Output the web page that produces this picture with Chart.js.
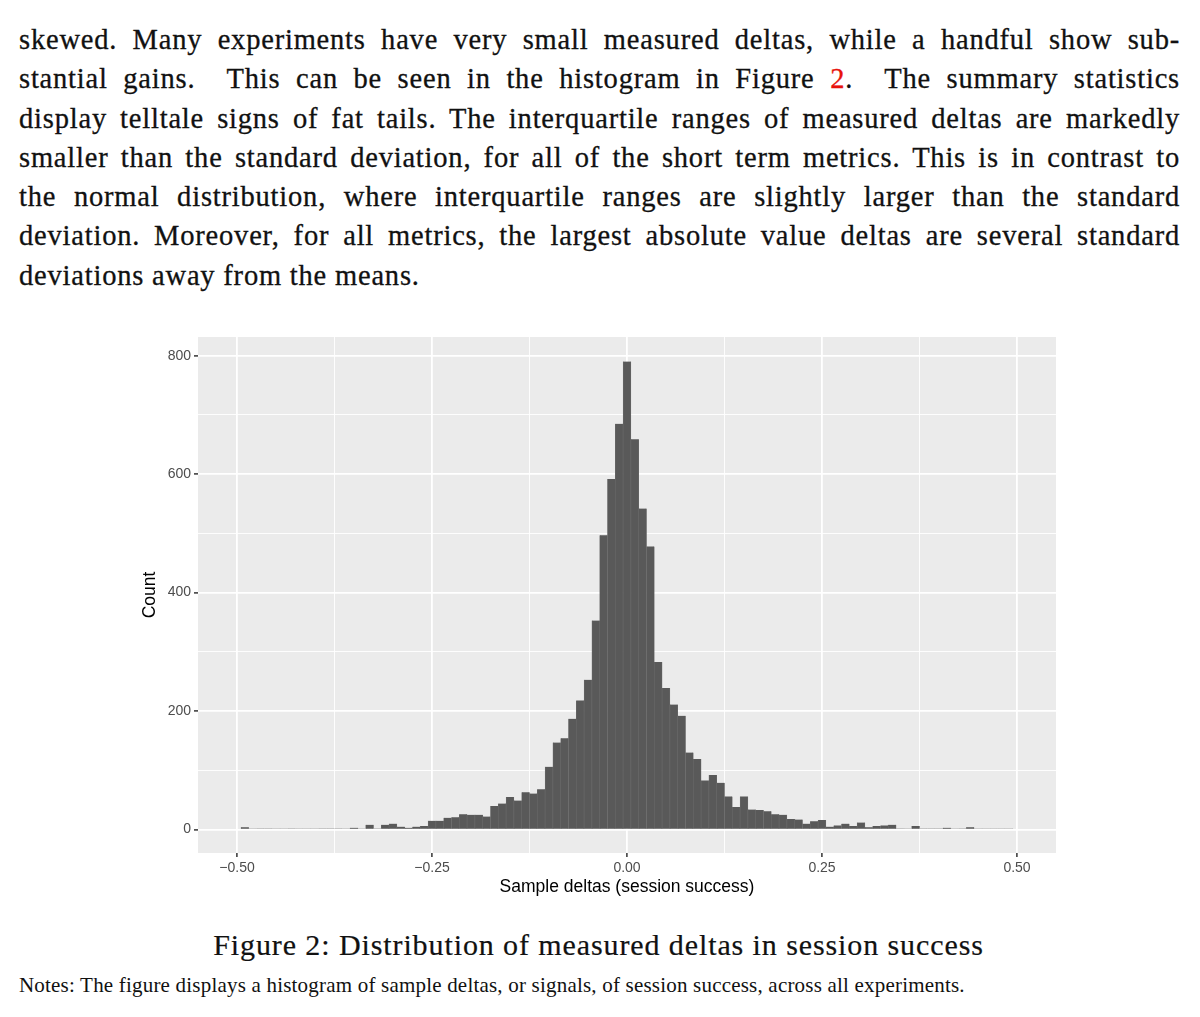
<!DOCTYPE html>
<html lang="en">
<head>
    <meta charset="UTF-8">
    <title>Distribution of measured deltas in session success</title>
    <script src="https://cdn.jsdelivr.net/npm/chart.js"></script>
    <style>
        body {
            margin: 0;
            width: 1200px;
            height: 1017px;
            background: #fff;
            color: #111;
            position: relative;
            overflow: hidden;
        }
        .para {
            position: absolute;
            left: 19px;
            top: 20px;
            width: 1161px;
            font-family: "Liberation Serif", serif;
            font-size: 28.5px;
            line-height: 39.3px;
            letter-spacing: 0.8px;
            -webkit-text-stroke: 0.3px #111;
        }
        .para .ln {
            text-align: justify;
            text-align-last: justify;
            white-space: nowrap;
        }
        .para .ln.last {
            text-align-last: left;
        }
        .ref { color: #e8120c; -webkit-text-stroke: 0.3px #e8120c; }
        .chart-box {
            position: absolute;
            left: 130px;
            top: 320px;
            width: 940px;
            height: 590px;
        }
        .caption {
            position: absolute;
            left: 0;
            width: 1197px;
            top: 930px;
            text-align: center;
            font-family: "Liberation Serif", serif;
            font-size: 30px;
            line-height: 30px;
            letter-spacing: 0.9px;
            -webkit-text-stroke: 0.2px #111;
        }
        .notes {
            position: absolute;
            left: 19px;
            top: 975px;
            font-family: "Liberation Serif", serif;
            font-size: 21px;
            line-height: 21px;
            letter-spacing: 0.2px;
        }
    </style>
</head>
<body>
    <div class="para">
        <div class="ln">skewed. Many experiments have very small measured deltas, while a handful show sub-</div>
        <div class="ln">stantial gains. &nbsp;This can be seen in the histogram in Figure <span class="ref">2</span>. &nbsp;The summary statistics</div>
        <div class="ln">display telltale signs of fat tails. The interquartile ranges of measured deltas are markedly</div>
        <div class="ln">smaller than the standard deviation, for all of the short term metrics. This is in contrast to</div>
        <div class="ln">the normal distribution, where interquartile ranges are slightly larger than the standard</div>
        <div class="ln">deviation. Moreover, for all metrics, the largest absolute value deltas are several standard</div>
        <div class="ln last">deviations away from the means.</div>
    </div>

    <div class="chart-box">
        <canvas id="histChart" width="940" height="590"></canvas>
    </div>

    <div class="caption">Figure 2: Distribution of measured deltas in session success</div>
    <div class="notes">Notes: The figure displays a histogram of sample deltas, or signals, of session success, across all experiments.</div>

    <script>
        // centres des classes (largeur 0.01)
        const binCenters = [
            -0.50, -0.49, -0.48, -0.47, -0.46, -0.45, -0.44, -0.43, -0.42, -0.41,
            -0.40, -0.39, -0.38, -0.37, -0.36, -0.35, -0.34, -0.33, -0.32, -0.31,
            -0.30, -0.29, -0.28, -0.27, -0.26, -0.25, -0.24, -0.23, -0.22, -0.21,
            -0.20, -0.19, -0.18, -0.17, -0.16, -0.15, -0.14, -0.13, -0.12, -0.11,
            -0.10, -0.09, -0.08, -0.07, -0.06, -0.05, -0.04, -0.03, -0.02, -0.01,
             0.00,
             0.01,  0.02,  0.03,  0.04,  0.05,  0.06,  0.07,  0.08,  0.09,  0.10,
             0.11,  0.12,  0.13,  0.14,  0.15,  0.16,  0.17,  0.18,  0.19,  0.20,
             0.21,  0.22,  0.23,  0.24,  0.25,  0.26,  0.27,  0.28,  0.29,  0.30,
             0.31,  0.32,  0.33,  0.34,  0.35,  0.36,  0.37,  0.38,  0.39,  0.40,
             0.41,  0.42,  0.43,  0.44,  0.45,  0.46,  0.47,  0.48,  0.49,  0.50
        ];

        // effectifs
        const counts = [
              0,   4,   1,   2,   2,   1,   1,   2,   1,   1,
              1,   2,   2,   2,   1,   3,   1,   8,   2,   8,
             10,   5,   3,   5,   6,  15,  15,  20,  21,  26,
             25,  25,  22,  40,  44,  55,  49,  63,  61,  68,
            106, 147, 154, 187, 218, 253, 353, 497, 592, 685,
            790,
            659, 542, 478, 283, 239, 211, 192, 130, 119,  83,
             92,  79,  56,  38,  56,  34,  33,  31,  26,  25,
             18,  17,  10,  14,  16,   5,   7,  10,   6,  12,
              4,   6,   7,   8,   2,   1,   6,   2,   2,   2,
              3,   1,   2,   4,   1,   1,   1,   1,   1,   0
        ];

        // graduations
        const xTicks = [-0.5, -0.375, -0.25, -0.125, 0, 0.125, 0.25, 0.375, 0.5];
        const xMajor = [-0.5, -0.25, 0, 0.25, 0.5];
        const xLabels = ['\u22120.50', '\u22120.25', '0.00', '0.25', '0.50'];
        const yTicks = [0, 100, 200, 300, 400, 500, 600, 700, 800];
        const yMajor = [0, 200, 400, 600, 800];

        const points = binCenters.map((x, i) => ({ x: x, y: counts[i] }));

        const isMajorX = v => xMajor.some(m => Math.abs(m - v) < 1e-9);
        const isMajorY = v => yMajor.includes(v);

        // fond gris du panneau (style ggplot)
        const panelBg = {
            id: 'panelBg',
            beforeDraw(chart) {
                const a = chart.chartArea;
                const ctx = chart.ctx;
                ctx.save();
                ctx.fillStyle = '#ebebeb';
                ctx.fillRect(a.left, a.top, a.right - a.left, a.bottom - a.top);
                ctx.restore();
            }
        };

        new Chart(document.getElementById('histChart'), {
            type: 'bar',
            data: {
                datasets: [{
                    label: 'Count',
                    data: points,
                    backgroundColor: '#595959',
                    borderColor: '#6e6e6e',
                    borderWidth: { left: 0.5, right: 0.5, top: 0, bottom: 0 },
                    borderSkipped: false,
                    barPercentage: 1,
                    categoryPercentage: 1
                }]
            },
            options: {
                responsive: false,
                animation: false,
                layout: { padding: { left: 0, top: 17, right: 14, bottom: 0 } },
                plugins: {
                    legend: { display: false },
                    tooltip: { enabled: false }
                },
                scales: {
                    x: {
                        type: 'linear',
                        min: -0.55,
                        max: 0.55,
                        offset: false,
                        border: { display: false },
                        grid: {
                            offset: false,
                            color: '#ffffff',
                            lineWidth: c => isMajorX(c.tick.value) ? 1.8 : 0.9,
                            tickColor: c => isMajorX(c.tick.value) ? '#333333' : 'rgba(0,0,0,0)',
                            tickWidth: 1.5,
                            tickLength: 4
                        },
                        afterBuildTicks: s => { s.ticks = xTicks.map(v => ({ value: v })); },
                        afterFit: s => { s.height = 57; },
                        ticks: {
                            autoSkip: false,
                            maxRotation: 0,
                            padding: 3,
                            color: '#4d4d4d',
                            font: { family: 'Liberation Sans', size: 14 },
                            callback: v => {
                                const k = xMajor.findIndex(m => Math.abs(m - v) < 1e-9);
                                return k >= 0 ? xLabels[k] : '';
                            }
                        },
                        title: {
                            display: true,
                            text: 'Sample deltas (session success)',
                            color: '#000',
                            font: { family: 'Liberation Sans', size: 17.5 },
                            padding: { top: 0, bottom: 12.5 }
                        }
                    },
                    y: {
                        min: -39.5,
                        max: 831.5,
                        border: { display: false },
                        grid: {
                            color: '#ffffff',
                            lineWidth: c => isMajorY(c.tick.value) ? 1.8 : 0.9,
                            tickColor: c => isMajorY(c.tick.value) ? '#333333' : 'rgba(0,0,0,0)',
                            tickWidth: 1.5,
                            tickLength: 4
                        },
                        afterBuildTicks: s => { s.ticks = yTicks.map(v => ({ value: v })); },
                        afterFit: s => { s.width = 68; },
                        ticks: {
                            autoSkip: false,
                            padding: 3,
                            color: '#4d4d4d',
                            font: { family: 'Liberation Sans', size: 14 },
                            callback: v => isMajorY(v) ? String(v) : ''
                        },
                        title: {
                            display: true,
                            text: 'Count',
                            color: '#000',
                            font: { family: 'Liberation Sans', size: 17.5 },
                            padding: { top: 9.5, bottom: 0 }
                        }
                    }
                }
            },
            plugins: [panelBg]
        });
    </script>
</body>
</html>
